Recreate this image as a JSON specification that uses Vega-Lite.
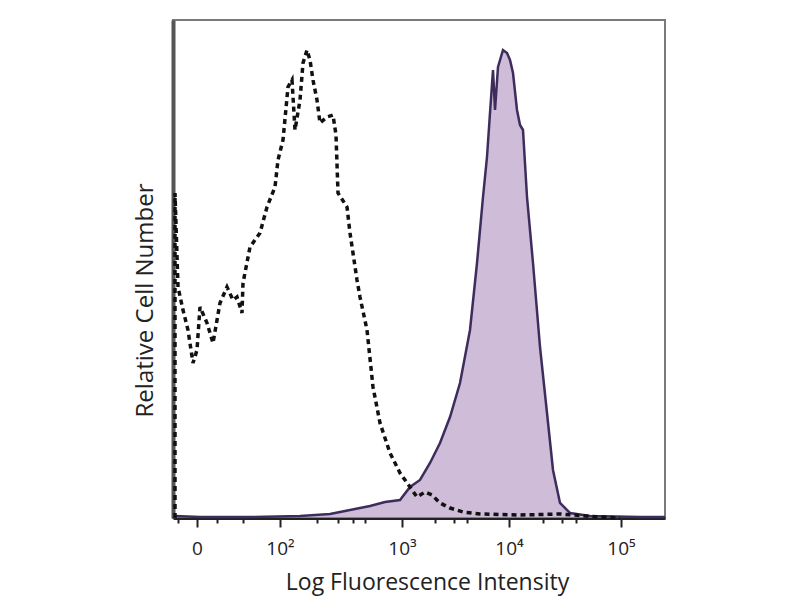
{
  "$schema": "https://vega.github.io/schema/vega-lite/v6.json",
  "autosize": {"type": "none"},
  "padding": {"left": 173, "top": 20, "right": 135, "bottom": 82},
  "width": 492,
  "height": 498,
  "background": "white",
  "config": {
    "view": {"stroke": "#7a7a7a", "strokeWidth": 2},
    "font": "Open Sans"
  },
  "datasets": {
    "isotype": [
      {"x": 2, "y": 0}, {"x": 2, "y": 325}, {"x": 5, "y": 231}, {"x": 10, "y": 208}, {"x": 15, "y": 188},
      {"x": 20, "y": 155}, {"x": 24, "y": 168}, {"x": 27, "y": 211}, {"x": 34, "y": 195}, {"x": 40, "y": 175},
      {"x": 47, "y": 215}, {"x": 54, "y": 231}, {"x": 60, "y": 218}, {"x": 64, "y": 221}, {"x": 69, "y": 205},
      {"x": 70, "y": 235}, {"x": 77, "y": 271}, {"x": 87, "y": 285}, {"x": 94, "y": 311}, {"x": 102, "y": 331},
      {"x": 105, "y": 358}, {"x": 110, "y": 378}, {"x": 115, "y": 431}, {"x": 119, "y": 438}, {"x": 122, "y": 388},
      {"x": 127, "y": 418}, {"x": 130, "y": 455}, {"x": 134, "y": 468}, {"x": 137, "y": 458}, {"x": 140, "y": 438},
      {"x": 144, "y": 418}, {"x": 147, "y": 395}, {"x": 154, "y": 401}, {"x": 160, "y": 403}, {"x": 163, "y": 383},
      {"x": 165, "y": 325}, {"x": 174, "y": 311}, {"x": 177, "y": 285}, {"x": 184, "y": 238}, {"x": 187, "y": 221},
      {"x": 194, "y": 188}, {"x": 200, "y": 131}, {"x": 207, "y": 95}, {"x": 217, "y": 65}, {"x": 227, "y": 45},
      {"x": 237, "y": 31}, {"x": 244, "y": 21}, {"x": 252, "y": 26}, {"x": 259, "y": 23}, {"x": 267, "y": 15},
      {"x": 277, "y": 10}, {"x": 290, "y": 6}, {"x": 307, "y": 4}, {"x": 347, "y": 3}, {"x": 387, "y": 4},
      {"x": 427, "y": 1}, {"x": 447, "y": 0}
    ],
    "stained": [
      {"x": 2, "y": 2}, {"x": 27, "y": 1}, {"x": 77, "y": 1}, {"x": 127, "y": 2}, {"x": 157, "y": 4},
      {"x": 177, "y": 8}, {"x": 197, "y": 12}, {"x": 212, "y": 16}, {"x": 227, "y": 18}, {"x": 237, "y": 31},
      {"x": 247, "y": 38}, {"x": 257, "y": 55}, {"x": 267, "y": 75}, {"x": 277, "y": 101}, {"x": 287, "y": 135},
      {"x": 297, "y": 188}, {"x": 304, "y": 255}, {"x": 310, "y": 321}, {"x": 314, "y": 361}, {"x": 317, "y": 405},
      {"x": 320, "y": 448}, {"x": 322, "y": 408}, {"x": 325, "y": 451}, {"x": 330, "y": 468}, {"x": 334, "y": 465},
      {"x": 337, "y": 458}, {"x": 340, "y": 445}, {"x": 344, "y": 408}, {"x": 347, "y": 393}, {"x": 350, "y": 388},
      {"x": 354, "y": 321}, {"x": 360, "y": 255}, {"x": 367, "y": 171}, {"x": 374, "y": 105}, {"x": 380, "y": 48},
      {"x": 387, "y": 15}, {"x": 397, "y": 5}, {"x": 417, "y": 2}, {"x": 467, "y": 1}, {"x": 492, "y": 1}
    ]
  },
  "encoding": {
    "x": {
      "field": "x", "type": "quantitative",
      "scale": {"domain": [0, 492], "nice": false, "zero": false},
      "axis": {
        "title": "Log Fluorescence Intensity",
        "titleFontSize": 23, "titleFontWeight": "normal", "titleColor": "#222",
        "titleX": 254, "titleY": 64, "titleBaseline": "middle",
        "values": [5, 24, 44, 70, 107, 144, 165, 180, 192, 229, 262, 281, 294, 336, 370, 389, 403, 448],
        "labelExpr": "datum.value == 24 ? '0' : datum.value == 107 ? '10²' : datum.value == 229 ? '10³' : datum.value == 336 ? '10⁴' : datum.value == 448 ? '10⁵' : ''",
        "labelFontSize": 19, "labelColor": "#222", "labelPadding": 12,
        "tickColor": "#222", "tickWidth": 2,
        "tickSize": {"condition": {"test": "datum.value == 24 || datum.value == 107 || datum.value == 229 || datum.value == 336 || datum.value == 448", "value": 9}, "value": 5},
        "domainColor": "#222", "domainWidth": 3,
        "grid": false
      }
    },
    "y": {
      "field": "y", "type": "quantitative",
      "scale": {"domain": [0, 498], "nice": false},
      "axis": {
        "title": "Relative Cell Number",
        "titleFontSize": 24, "titleFontWeight": "normal", "titleColor": "#222",
        "titleX": -28, "titleY": 280, "titleBaseline": "middle",
        "labels": false, "ticks": false, "grid": false,
        "domainColor": "#555", "domainWidth": 4
      }
    }
  },
  "layer": [
    {
      "data": {"name": "stained"},
      "mark": {"type": "area", "color": "#b9a0c9", "line": {"color": "#3d2d5c", "strokeWidth": 2.5}}
    },
    {
      "data": {"name": "isotype"},
      "mark": {"type": "line", "color": "#111", "strokeWidth": 3.5, "strokeDash": [5, 4]}
    }
  ]
}
